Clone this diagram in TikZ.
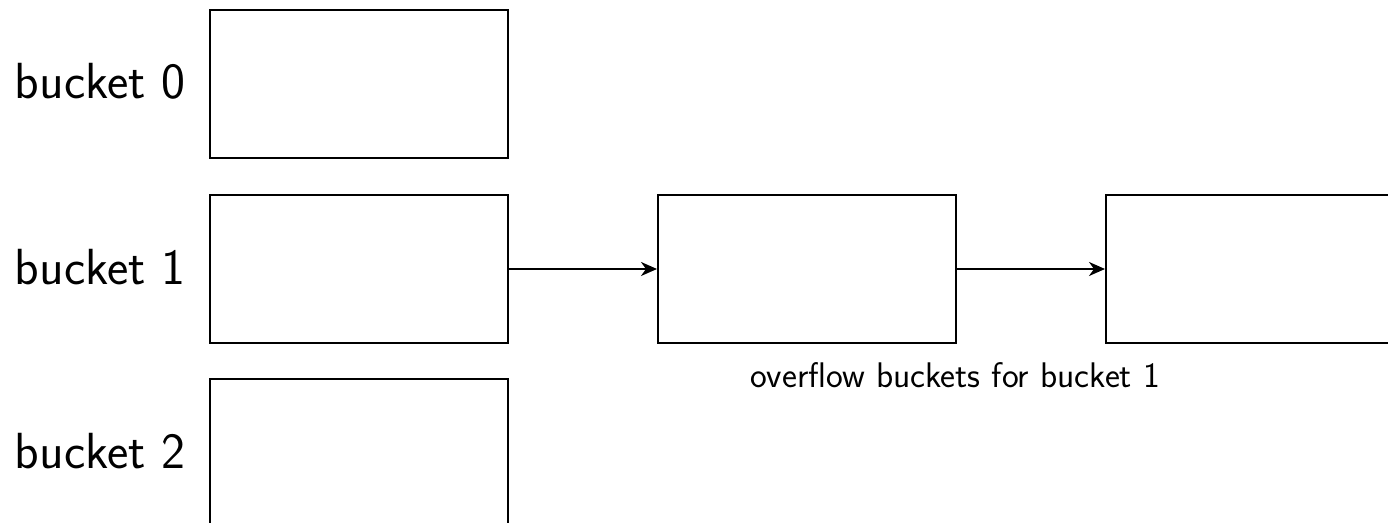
\documentclass[tikz,border=0pt]{standalone}
\usetikzlibrary{arrows.meta}
\renewcommand{\familydefault}{\sfdefault}
\begin{document}
\begin{tikzpicture}[x=0.5pt,y=-0.5pt,
  bucketbox/.style={draw,line width=1pt,minimum width=149pt,minimum height=74pt,inner sep=0pt,anchor=north west},
  biglabel/.style={font=\fontsize{25.4}{30}\selectfont,anchor=base east,inner sep=0pt},
  smalllabel/.style={font=\fontsize{17.8}{21}\selectfont,anchor=base,inner sep=0pt},
  link/.style={draw,line width=1pt,-{Stealth[length=8pt,width=7pt,inset=2.5pt]}}]
\useasboundingbox (0,0) rectangle (1388,523);
\begin{scope}
\clip (0,0) rectangle (1388,523);
\node[bucketbox] (b0) at (209,9) {};
\node[bucketbox] (b1) at (209,194) {};
\node[bucketbox] (b2) at (209,378) {};
\node[bucketbox] (o1) at (657,194) {};
\node[bucketbox] (o2) at (1105,194) {};
\end{scope}
\node[biglabel] (l0) at (186,99) {bucket 0};
\node[biglabel] (l1) at (186,285) {bucket 1};
\node[biglabel] (l2) at (186,469) {bucket 2};
\node[smalllabel] (ol) at (955,388) {overflow buckets for bucket 1};
\draw[link] (b1.east) -- (o1.west);
\draw[link] (o1.east) -- (o2.west);
\end{tikzpicture}
\end{document}
